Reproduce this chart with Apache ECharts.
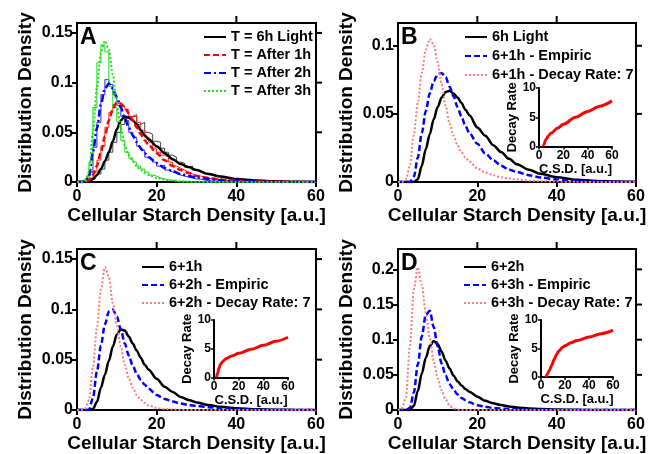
<!DOCTYPE html>
<html>
<head>
<meta charset="utf-8">
<script src="https://cdn.jsdelivr.net/npm/echarts@6/dist/echarts.min.js"></script>
<style>
  html, body { margin: 0; background: #fff; }
  #chart { width: 657px; height: 454px; }
  #err { position: absolute; left: 0; top: 0; font: 10px monospace; color: #c00; white-space: pre-wrap; margin: 0; }
</style>
</head>
<body>
<div id="chart"></div>
<pre id="err"></pre>
<script>
window.addEventListener('error', (e) => { document.getElementById('err').textContent += e.message + '\n'; });

// x positions (cellular starch density) shared by the fitted curves
const csd = [0, 1, 2, 3, 4, 5, 6, 7, 8, 9, 10, 11, 12, 13, 14, 15, 16, 17, 18, 20, 22, 24, 26, 28, 30, 33, 36, 40, 45, 50, 55, 60];

// panel A - fitted curves
const aLight   = [0, 0, 0, 0.001, 0.003, 0.007, 0.013, 0.021, 0.030, 0.041, 0.053, 0.062, 0.066, 0.065, 0.062, 0.058, 0.052, 0.047, 0.043, 0.036, 0.029, 0.023, 0.018, 0.015, 0.012, 0.008, 0.0055, 0.003, 0.0015, 0.0007, 0.0003, 0.0001];
const aAfter1h = [0, 0, 0, 0.002, 0.007, 0.016, 0.030, 0.046, 0.062, 0.074, 0.080, 0.079, 0.075, 0.069, 0.062, 0.055, 0.048, 0.042, 0.037, 0.029, 0.022, 0.016, 0.012, 0.009, 0.006, 0.004, 0.0025, 0.0012, 0.0005, 0.0002, 0.0001, 0];
const aAfter2h = [0, 0, 0.001, 0.006, 0.030, 0.054, 0.078, 0.094, 0.099, 0.094, 0.085, 0.075, 0.064, 0.055, 0.047, 0.040, 0.034, 0.029, 0.025, 0.019, 0.014, 0.011, 0.008, 0.006, 0.0045, 0.003, 0.0018, 0.0009, 0.0004, 0.0001, 0, 0];
const aAfter3h = [0, 0, 0.001, 0.010, 0.050, 0.095, 0.130, 0.142, 0.133, 0.108, 0.078, 0.054, 0.037, 0.027, 0.021, 0.016, 0.012, 0.009, 0.007, 0.004, 0.0025, 0.0015, 0.0008, 0.0004, 0.0002, 0, 0, 0, 0, 0, 0, 0];

// panel A - histograms, one value per unit bin starting at 0
const histBins   = [0.5, 1.5, 2.5, 3.5, 4.5, 5.5, 6.5, 7.5, 8.5, 9.5, 10.5, 11.5, 12.5, 13.5, 14.5, 15.5, 16.5, 17.5, 18.5, 19.5, 20.5, 21.5, 22.5, 23.5, 24.5, 25.5, 26.5, 27.5, 28.5, 29.5, 30.5, 31.5, 32.5, 33.5, 34.5, 35.5, 36.5, 37.5, 38.5, 39.5, 40.5, 41.5, 42.5, 43.5, 44.5, 45.5];
const histLight  = [0, 0, 0, 0.001, 0.003, 0.008, 0.013, 0.022, 0.030, 0.040, 0.050, 0.058, 0.064, 0.063, 0.066, 0.058, 0.060, 0.050, 0.048, 0.041, 0.040, 0.034, 0.030, 0.027, 0.025, 0.020, 0.019, 0.015, 0.016, 0.012, 0.011, 0.009, 0.008, 0.007, 0.006, 0.005, 0.0045, 0.004, 0.003, 0.003, 0.002, 0.0015, 0.0015, 0.001, 0.001, 0.001];
const hist1h     = [0, 0, 0.001, 0.004, 0.010, 0.022, 0.036, 0.055, 0.070, 0.078, 0.080, 0.076, 0.073, 0.066, 0.068, 0.060, 0.052, 0.045, 0.040, 0.034, 0.030, 0.027, 0.025, 0.020, 0.016, 0.014, 0.012, 0.010, 0.008, 0.007, 0.006, 0.005, 0.004, 0.003, 0.0025, 0.002, 0.002, 0.0015, 0.001, 0.001, 0.0005, 0.0005, 0, 0, 0, 0];
const hist2h     = [0, 0, 0.002, 0.010, 0.035, 0.060, 0.088, 0.103, 0.098, 0.088, 0.077, 0.066, 0.062, 0.050, 0.045, 0.036, 0.032, 0.025, 0.023, 0.020, 0.016, 0.017, 0.012, 0.010, 0.009, 0.007, 0.006, 0.005, 0.004, 0.003, 0.003, 0.002, 0.0015, 0.001, 0.001, 0.0005, 0, 0, 0, 0, 0, 0, 0, 0, 0, 0];
const hist3h     = [0, 0, 0.003, 0.020, 0.075, 0.120, 0.138, 0.131, 0.096, 0.075, 0.060, 0.042, 0.030, 0.024, 0.020, 0.016, 0.013, 0.010, 0.007, 0.006, 0.004, 0.003, 0.002, 0.0015, 0.001, 0, 0, 0, 0, 0, 0, 0, 0, 0, 0, 0, 0, 0, 0, 0, 0, 0, 0, 0, 0, 0];

// panel B
const bLight   = [0, 0, 0, 0, 0, 0.002, 0.012, 0.024, 0.035, 0.046, 0.055, 0.062, 0.066, 0.067, 0.065, 0.062, 0.058, 0.053, 0.049, 0.040, 0.034, 0.027, 0.022, 0.017, 0.013, 0.009, 0.006, 0.0035, 0.0017, 0.0008, 0.0003, 0.0001];
const bEmpiric = [0, 0, 0, 0, 0.004, 0.018, 0.036, 0.052, 0.065, 0.074, 0.079, 0.080, 0.077, 0.070, 0.063, 0.055, 0.048, 0.041, 0.036, 0.028, 0.021, 0.016, 0.012, 0.009, 0.0073, 0.005, 0.0033, 0.0018, 0.0008, 0.0003, 0.0001, 0];
const bDecay   = [0, 0, 0.002, 0.012, 0.035, 0.058, 0.080, 0.097, 0.105, 0.101, 0.088, 0.072, 0.056, 0.043, 0.034, 0.027, 0.022, 0.018, 0.015, 0.010, 0.007, 0.005, 0.0035, 0.0025, 0.0018, 0.001, 0.0006, 0.0003, 0.0001, 0, 0, 0];

// panel C
const cOneH    = [0, 0, 0, 0, 0.001, 0.008, 0.022, 0.035, 0.049, 0.063, 0.075, 0.080, 0.079, 0.073, 0.066, 0.059, 0.052, 0.045, 0.040, 0.031, 0.023, 0.018, 0.013, 0.010, 0.0075, 0.005, 0.0032, 0.0017, 0.0007, 0.0003, 0.0001, 0];
const cEmpiric = [0, 0, 0, 0, 0.012, 0.038, 0.064, 0.085, 0.098, 0.100, 0.093, 0.080, 0.066, 0.054, 0.044, 0.036, 0.030, 0.025, 0.021, 0.015, 0.011, 0.0085, 0.0065, 0.005, 0.004, 0.0028, 0.0018, 0.001, 0.0004, 0.0001, 0, 0];
const cDecay   = [0, 0, 0.001, 0.010, 0.042, 0.082, 0.120, 0.142, 0.132, 0.106, 0.084, 0.063, 0.045, 0.031, 0.022, 0.015, 0.010, 0.007, 0.0045, 0.002, 0.001, 0.0005, 0.0002, 0, 0, 0, 0, 0, 0, 0, 0, 0];

// panel D
const dTwoH    = [0, 0, 0, 0, 0.006, 0.027, 0.052, 0.074, 0.091, 0.098, 0.094, 0.083, 0.070, 0.059, 0.049, 0.041, 0.035, 0.030, 0.026, 0.019, 0.013, 0.0095, 0.007, 0.005, 0.0036, 0.0022, 0.0013, 0.0007, 0.0002, 0.0001, 0, 0];
const dEmpiric = [0, 0, 0, 0.003, 0.025, 0.065, 0.105, 0.135, 0.141, 0.118, 0.090, 0.066, 0.049, 0.037, 0.029, 0.022, 0.017, 0.014, 0.011, 0.0068, 0.0045, 0.003, 0.002, 0.0013, 0.0009, 0.0005, 0.0003, 0.0001, 0, 0, 0, 0];
const dDecay   = [0, 0.002, 0.018, 0.092, 0.172, 0.203, 0.178, 0.138, 0.103, 0.070, 0.045, 0.028, 0.015, 0.006, 0.002, 0.0005, 0, 0, 0, 0, 0, 0, 0, 0, 0, 0, 0, 0, 0, 0, 0, 0];

// insets: decay rate vs C.S.D.
const decayBx = [3.5, 4, 5, 6, 8, 10, 15, 20, 30, 40, 50, 60];
const decayBy = [0, 0.3, 0.9, 1.3, 1.9, 2.3, 3.1, 3.8, 5.0, 6.0, 6.9, 7.8];
const decayCx = [2, 3, 4, 5, 7, 10, 15, 20, 30, 40, 50, 60];
const decayCy = [0, 0.8, 1.6, 2.2, 2.8, 3.3, 3.8, 4.2, 4.9, 5.6, 6.3, 7.0];
const decayDx = [4, 5, 7, 9, 11, 13, 15, 18, 20, 25, 30, 40, 50, 60];
const decayDy = [0, 0.4, 1.2, 2.1, 3.1, 4.0, 4.6, 5.2, 5.5, 6.0, 6.4, 7.0, 7.6, 8.2];

// tick values repeated on the top / right edge of each panel frame
const topTicks = [20, 40];
const rightTicks = [[0.05, 0.1, 0.15], [0.05, 0.1], [0.05, 0.1, 0.15], [0.05, 0.1, 0.15, 0.2]];

const FONT = 'Liberation Sans, Arial, sans-serif';

const pts = (xs, ys) => xs.map((x, i) => [x, ys[i]]);

const panels = [
  { letter: 'A', left: 77, top: 23, width: 239, height: 159, yMax: 0.16, legendLeft: 203, legendTop: 29, gap: 2 },
  { letter: 'B', left: 398, top: 23, width: 238, height: 159, yMax: 0.1167, legendLeft: 464, legendTop: 29, gap: 3 },
  { letter: 'C', left: 77, top: 249, width: 239, height: 161, yMax: 0.16, legendLeft: 141, legendTop: 259, gap: 2 },
  { letter: 'D', left: 398, top: 249, width: 238, height: 161, yMax: 0.229, legendLeft: 463, legendTop: 259, gap: 2 },
];
const insets = [
  { left: 539, top: 88, width: 73, height: 58.5 },
  { left: 214, top: 320, width: 74, height: 57.5 },
  { left: 541, top: 320, width: 72, height: 57 },
];

const line = () => ({ show: true, onZero: false, lineStyle: { color: '#000', width: 2 } });
const tick = (length, width = 2) => ({ show: true, length, lineStyle: { color: '#000', width } });
const grids = [];
const xAxes = [];
const yAxes = [];
const legends = [];
const graphics = [];

panels.forEach((p, i) => {
  grids.push({ left: p.left, top: p.top, width: p.width, height: p.height });
  xAxes.push({
    gridIndex: i, type: 'value', min: 0, max: 60, interval: 20, position: 'bottom',
    axisLine: line(), axisTick: tick(5), splitLine: { show: false },
    axisLabel: { fontSize: 16, fontWeight: 'bold', color: '#000', fontFamily: FONT, margin: 7 },
    name: 'Cellular Starch Density [a.u.]', nameLocation: 'middle', nameGap: 24,
    nameTextStyle: { fontSize: 19, fontWeight: 'bold', color: '#000', fontFamily: FONT },
  });
  yAxes.push({
    gridIndex: i, type: 'value', min: 0, max: p.yMax, interval: 0.05, position: 'left',
    axisLine: line(), axisTick: tick(5), splitLine: { show: false },
    axisLabel: { fontSize: 16, fontWeight: 'bold', color: '#000', fontFamily: FONT, margin: 4, showMaxLabel: false },
    name: 'Distribution Density', nameLocation: 'middle', nameGap: 42,
    nameTextStyle: { fontSize: 19, fontWeight: 'bold', color: '#000', fontFamily: FONT },
  });
  graphics.push({
    type: 'text', left: p.left + 3, top: p.top + 3,
    style: { text: p.letter, font: 'bold 23px ' + FONT, fill: '#000' },
  });

  // top and right edges of the panel box, with outward ticks
  const x0 = p.left, x1 = p.left + p.width, y0 = p.top + p.height, y1 = p.top;
  const stroke = { stroke: '#000', lineWidth: 2 };
  graphics.push({ type: 'line', silent: true, z: 100, shape: { x1: x0 - 1, y1: y1, x2: x1 + 1, y2: y1 }, style: stroke });
  graphics.push({ type: 'line', silent: true, z: 100, shape: { x1: x1, y1: y1, x2: x1, y2: y0 }, style: stroke });
  topTicks.forEach((v) => {
    const x = x0 + (v / 60) * p.width;
    graphics.push({ type: 'line', silent: true, z: 100, shape: { x1: x, y1: y1, x2: x, y2: y1 - 7 }, style: stroke });
  });
  rightTicks[i].forEach((v) => {
    const y = y0 - (v / p.yMax) * p.height;
    graphics.push({ type: 'line', silent: true, z: 100, shape: { x1: x1, y1: y, x2: x1 + 6, y2: y }, style: stroke });
  });
});

insets.forEach((g, j) => {
  const gi = 4 + j;
  grids.push({ left: g.left, top: g.top, width: g.width, height: g.height });
  xAxes.push({
    gridIndex: gi, type: 'value', min: 0, max: 60, interval: 20, position: 'bottom',
    axisLine: line(), axisTick: tick(3, 1.5), splitLine: { show: false },
    axisLabel: { fontSize: 12, fontWeight: 'bold', color: '#000', fontFamily: FONT, margin: 3 },
    name: 'C.S.D. [a.u.]', nameLocation: 'middle', nameGap: 16,
    nameTextStyle: { fontSize: 13, fontWeight: 'bold', color: '#000', fontFamily: FONT },
  });
  yAxes.push({
    gridIndex: gi, type: 'value', min: 0, max: 10, interval: 5, position: 'left',
    axisLine: line(), axisTick: tick(3, 1.5), splitLine: { show: false },
    axisLabel: { fontSize: 12, fontWeight: 'bold', color: '#000', fontFamily: FONT, margin: 3 },
    name: 'Decay Rate', nameLocation: 'middle', nameGap: 19,
    nameTextStyle: { fontSize: 13, fontWeight: 'bold', color: '#000', fontFamily: FONT },
  });
});

function curve(name, panel, ys, color, width, type) {
  return {
    name, type: 'line', xAxisIndex: panel, yAxisIndex: panel,
    data: pts(csd, ys), symbol: 'none', smooth: 0.3, smoothMonotone: 'x',
    lineStyle: { color, width, type }, itemStyle: { color }, z: 4,
  };
}
function hist(name, ys, color) {
  return {
    name, type: 'line', xAxisIndex: 0, yAxisIndex: 0, step: 'middle',
    data: pts(histBins, ys), symbol: 'none',
    lineStyle: { color, width: 1 }, itemStyle: { color }, z: 2,
  };
}
function decay(name, inset, xs, ys) {
  return {
    name, type: 'line', xAxisIndex: 4 + inset, yAxisIndex: 4 + inset,
    data: pts(xs, ys), symbol: 'none', smooth: 0.3, smoothMonotone: 'x',
    lineStyle: { color: '#ff0000', width: 3 }, itemStyle: { color: '#ff0000' }, z: 5,
  };
}

const BLACK = '#000000', RED = '#ff0000', BLUE = '#0000ff', GREEN = '#22dd22', PINK = '#ff7a7a';
const DASH = [6, 3], DASHDOT = [7, 3, 2, 3], DOT = [2, 2];

const series = [
  hist('hist 6h', histLight, '#444444'),
  hist('hist 1h', hist1h, '#ff2a2a'),
  hist('hist 2h', hist2h, '#2a2aff'),
  hist('hist 3h', hist3h, '#11dd11'),
  curve('T = 6h Light', 0, aLight, BLACK, 2.5, 'solid'),
  curve('T = After 1h', 0, aAfter1h, RED, 2.5, DASH),
  curve('T = After 2h', 0, aAfter2h, BLUE, 2.5, DASHDOT),
  curve('T = After 3h', 0, aAfter3h, GREEN, 2, DOT),
  curve('6h Light', 1, bLight, BLACK, 2.5, 'solid'),
  curve('6+1h - Empiric', 1, bEmpiric, BLUE, 2.5, DASH),
  curve('6+1h - Decay Rate: 7', 1, bDecay, PINK, 2, DOT),
  curve('6+1h', 2, cOneH, BLACK, 2.5, 'solid'),
  curve('6+2h - Empiric', 2, cEmpiric, BLUE, 2.5, DASH),
  curve('6+2h - Decay Rate: 7', 2, cDecay, PINK, 2, DOT),
  curve('6+2h', 3, dTwoH, BLACK, 2.5, 'solid'),
  curve('6+3h - Empiric', 3, dEmpiric, BLUE, 2.5, DASH),
  curve('6+3h - Decay Rate: 7', 3, dDecay, PINK, 2, DOT),
  decay('decay B', 0, decayBx, decayBy),
  decay('decay C', 1, decayCx, decayCy),
  decay('decay D', 2, decayDx, decayDy),
];

const legendNames = [
  ['T = 6h Light', 'T = After 1h', 'T = After 2h', 'T = After 3h'],
  ['6h Light', '6+1h - Empiric', '6+1h - Decay Rate: 7'],
  ['6+1h', '6+2h - Empiric', '6+2h - Decay Rate: 7'],
  ['6+2h', '6+3h - Empiric', '6+3h - Decay Rate: 7'],
];
panels.forEach((p, i) => {
  legends.push({
    data: legendNames[i], orient: 'vertical', left: p.legendLeft, top: p.legendTop,
    padding: 0, itemWidth: 22, itemHeight: 12, itemGap: p.gap, selectedMode: false,
    itemStyle: { color: 'rgba(0,0,0,0)', borderColor: 'rgba(0,0,0,0)', borderWidth: 0, opacity: 0 },
    textStyle: { fontSize: 14.5, fontWeight: 'bold', color: '#000', fontFamily: FONT, lineHeight: 16 },
  });
});

const chart = echarts.init(document.getElementById('chart'));
chart.setOption({
  animation: false,
  backgroundColor: '#fff',
  textStyle: { fontFamily: FONT },
  grid: grids,
  xAxis: xAxes,
  yAxis: yAxes,
  legend: legends,
  graphic: { elements: graphics },
  series,
});
</script>
</body>
</html>
